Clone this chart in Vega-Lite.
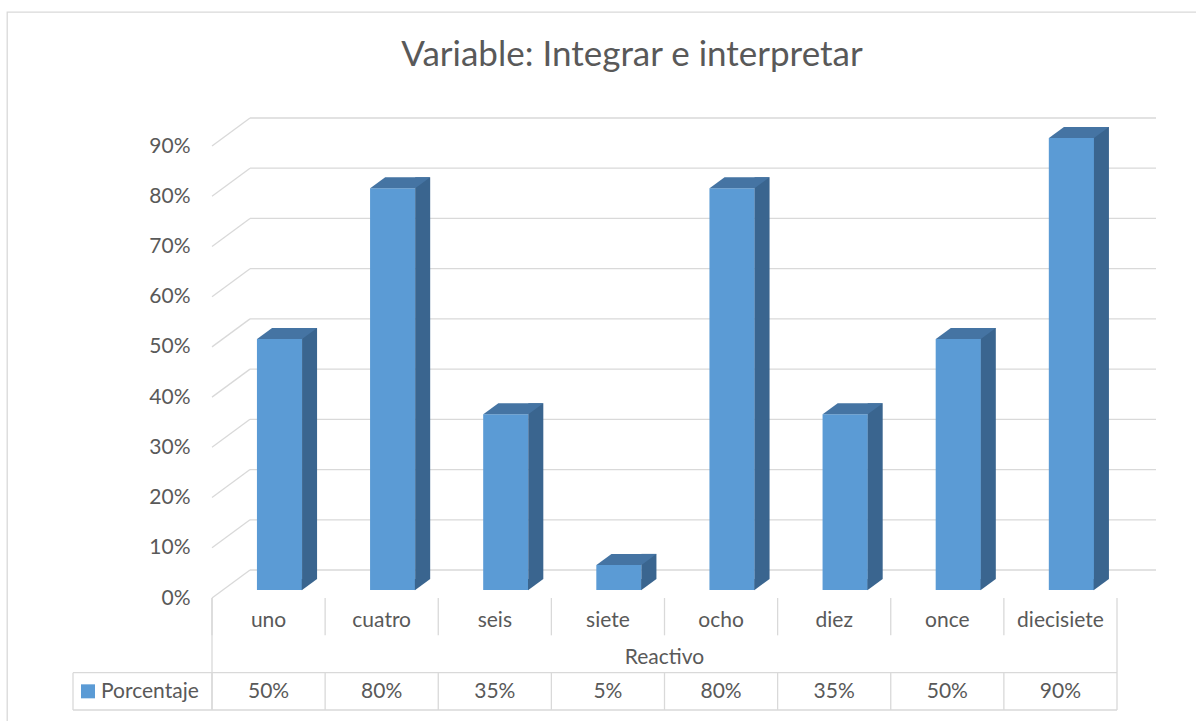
{
  "$schema": "https://vega.github.io/schema/vega-lite/v6.json",
  "width": 1200,
  "height": 720,
  "autosize": "none",
  "padding": {"left": 7, "top": 12, "right": 0, "bottom": 0},
  "background": "white",
  "title": {"text": "Variable: Integrar e interpretar", "font": "Lato", "fontSize": 35, "fontWeight": "normal", "color": "#595959", "anchor": "middle", "frame": "group", "offset": -89, "baseline": "alphabetic", "dx": 25},
  "config": {"view": {"stroke": "#d9d9d9", "strokeWidth": 1.3}, "text": {"font": "Lato"}},
  "datasets": {
    "main": [
      {"cat": "uno", "pct": 0.5},
      {"cat": "cuatro", "pct": 0.8},
      {"cat": "seis", "pct": 0.35},
      {"cat": "siete", "pct": 0.05},
      {"cat": "ocho", "pct": 0.8},
      {"cat": "diez", "pct": 0.35},
      {"cat": "once", "pct": 0.5},
      {"cat": "diecisiete", "pct": 0.9}
    ],
    "ticks": [{"v": 0}, {"v": 0.1}, {"v": 0.2}, {"v": 0.3}, {"v": 0.4}, {"v": 0.5}, {"v": 0.6}, {"v": 0.7}, {"v": 0.8}, {"v": 0.9}],
    "one": [{}]
  },
  "data": {"name": "main"},
  "resolve": {"scale": {"y": "independent"}, "axis": {"y": "independent"}},
  "layer": [
    {
      "layer": [
        {
          "data": {"name": "ticks"},
          "mark": {"type": "rule", "color": "#d9d9d9", "strokeWidth": 1.3, "xOffset": 38, "x2Offset": 39, "yOffset": -28},
          "encoding": {
            "y": {"field": "v", "type": "quantitative", "scale": {"domain": [0, 0.9], "range": [586, 134], "nice": false, "zero": false},
              "axis": {"orient": "left", "offset": -205, "ticks": false, "domain": false, "grid": false, "labelPadding": 22, "labelFontSize": 21, "labelFont": "Lato", "labelColor": "#595959", "values": [0, 0.1, 0.2, 0.3, 0.4, 0.5, 0.6, 0.7, 0.8, 0.9], "format": ".0%", "title": null}},
            "x": {"datum": "uno", "type": "nominal", "bandPosition": 0, "scale": {"domain": ["uno", "cuatro", "seis", "siete", "ocho", "diez", "once", "diecisiete"], "range": [205, 1110], "paddingInner": 0, "paddingOuter": 0}, "axis": null},
            "x2": {"datum": "diecisiete", "bandPosition": 1}
          }
        },
        {
          "data": {"name": "ticks"},
          "mark": {"type": "rule", "color": "#d9d9d9", "strokeWidth": 1.3, "x2Offset": 38, "y2Offset": -28},
          "encoding": {
            "y": {"field": "v", "type": "quantitative"},
            "y2": {"field": "v"},
            "x": {"datum": "uno", "type": "nominal", "bandPosition": 0},
            "x2": {"datum": "uno", "bandPosition": 0}
          }
        },
        {
          "mark": {"type": "bar", "color": "#5B9BD5", "width": {"band": 0.4}, "xOffset": 11, "yOffset": -8, "y2Offset": -8},
          "encoding": {
            "x": {"field": "cat", "type": "nominal", "sort": null},
            "y": {"field": "pct", "type": "quantitative", "stack": null},
            "y2": {"datum": 0}
          }
        },
        {
          "mark": {"type": "bar", "color": "#3a658f", "width": {"band": 0.1326}, "xOffset": 41, "yOffset": -19, "y2Offset": -19},
          "encoding": {
            "x": {"field": "cat", "type": "nominal", "sort": null},
            "y": {"field": "pct", "type": "quantitative", "stack": null},
            "y2": {"datum": 0}
          }
        },
        {
          "mark": {"type": "point", "filled": true, "opacity": 1, "strokeWidth": 0, "color": "#3a658f", "size": 3600, "shape": "M 0.49 0.01 L 0.49 -0.37 L 1 -0.37 Z", "xOffset": 18.5, "yOffset": -8},
          "encoding": {
            "x": {"field": "cat", "type": "nominal", "sort": null},
            "y": {"datum": 0, "type": "quantitative"}
          }
        },
        {
          "mark": {"type": "point", "filled": true, "opacity": 1, "strokeWidth": 0, "color": "#4574a3", "size": 3600, "shape": "M -1 0 L 0.5 0 L 1 -0.3667 L -0.5 -0.3667 Z", "xOffset": 18.5, "yOffset": -8},
          "encoding": {
            "x": {"field": "cat", "type": "nominal", "sort": null},
            "y": {"field": "pct", "type": "quantitative"}
          }
        }
      ]
    },
    {
      "layer": [
        {
          "mark": {"type": "rule", "color": "#d9d9d9", "strokeWidth": 1.3},
          "encoding": {
            "x": {"field": "cat", "type": "nominal", "sort": null, "bandPosition": 0},
            "y": {"datum": "etiquetas", "type": "nominal", "bandPosition": 0, "scale": {"domain": ["etiquetas", "Reactivo", "Porcentaje"], "range": [586, 698], "paddingInner": 0, "paddingOuter": 0}, "axis": null},
            "y2": {"datum": "Reactivo", "bandPosition": 0}
          }
        },
        {
          "mark": {"type": "rule", "color": "#d9d9d9", "strokeWidth": 1.3},
          "encoding": {
            "x": {"field": "cat", "type": "nominal", "sort": null, "bandPosition": 0},
            "y": {"datum": "Porcentaje", "type": "nominal", "bandPosition": 0},
            "y2": {"datum": "Porcentaje", "bandPosition": 1}
          }
        },
        {
          "data": {"name": "one"},
          "mark": {"type": "rule", "color": "#d9d9d9", "strokeWidth": 1.3},
          "encoding": {
            "x": {"datum": "uno", "type": "nominal", "bandPosition": 0},
            "y": {"datum": "etiquetas", "type": "nominal", "bandPosition": 0},
            "y2": {"datum": "Porcentaje", "bandPosition": 1}
          }
        },
        {
          "data": {"name": "one"},
          "mark": {"type": "rule", "color": "#d9d9d9", "strokeWidth": 1.3},
          "encoding": {
            "x": {"datum": "diecisiete", "type": "nominal", "bandPosition": 1},
            "y": {"datum": "etiquetas", "type": "nominal", "bandPosition": 0},
            "y2": {"datum": "Porcentaje", "bandPosition": 1}
          }
        },
        {
          "data": {"name": "one"},
          "mark": {"type": "rule", "color": "#d9d9d9", "strokeWidth": 1.3, "xOffset": -139},
          "encoding": {
            "x": {"datum": "uno", "type": "nominal", "bandPosition": 0},
            "x2": {"datum": "diecisiete", "bandPosition": 1},
            "y": {"datum": "Porcentaje", "type": "nominal", "bandPosition": 0}
          }
        },
        {
          "data": {"name": "one"},
          "mark": {"type": "rule", "color": "#d9d9d9", "strokeWidth": 1.3, "xOffset": -139},
          "encoding": {
            "x": {"datum": "uno", "type": "nominal", "bandPosition": 0},
            "x2": {"datum": "diecisiete", "bandPosition": 1},
            "y": {"datum": "Porcentaje", "type": "nominal", "bandPosition": 1}
          }
        },
        {
          "data": {"name": "one"},
          "mark": {"type": "rule", "color": "#d9d9d9", "strokeWidth": 1.3, "xOffset": -139},
          "encoding": {
            "x": {"datum": "uno", "type": "nominal", "bandPosition": 0},
            "y": {"datum": "Porcentaje", "type": "nominal", "bandPosition": 0},
            "y2": {"datum": "Porcentaje", "bandPosition": 1}
          }
        },
        {
          "mark": {"type": "text", "fontSize": 21, "color": "#595959", "baseline": "middle", "dy": 4},
          "encoding": {
            "x": {"field": "cat", "type": "nominal", "sort": null},
            "y": {"datum": "etiquetas", "type": "nominal"},
            "text": {"field": "cat"}
          }
        },
        {
          "data": {"name": "one"},
          "mark": {"type": "text", "fontSize": 21, "color": "#595959", "baseline": "middle", "dy": 4, "text": "Reactivo"},
          "encoding": {
            "x": {"datum": "ocho", "type": "nominal", "bandPosition": 0},
            "y": {"datum": "Reactivo", "type": "nominal"}
          }
        },
        {
          "mark": {"type": "text", "fontSize": 21, "color": "#595959", "baseline": "middle", "dy": 1},
          "encoding": {
            "x": {"field": "cat", "type": "nominal", "sort": null},
            "y": {"datum": "Porcentaje", "type": "nominal"},
            "text": {"field": "pct", "type": "quantitative", "format": ".0%"}
          }
        },
        {
          "data": {"name": "one"},
          "mark": {"type": "text", "fontSize": 21, "color": "#595959", "baseline": "middle", "align": "left", "dx": -111, "dy": 1, "text": "Porcentaje"},
          "encoding": {
            "x": {"datum": "uno", "type": "nominal", "bandPosition": 0},
            "y": {"datum": "Porcentaje", "type": "nominal"}
          }
        },
        {
          "data": {"name": "one"},
          "mark": {"type": "point", "shape": "square", "filled": true, "opacity": 1, "strokeWidth": 0, "size": 196, "color": "#5B9BD5", "xOffset": -124},
          "encoding": {
            "x": {"datum": "uno", "type": "nominal", "bandPosition": 0},
            "y": {"datum": "Porcentaje", "type": "nominal"}
          }
        }
      ]
    }
  ]
}
